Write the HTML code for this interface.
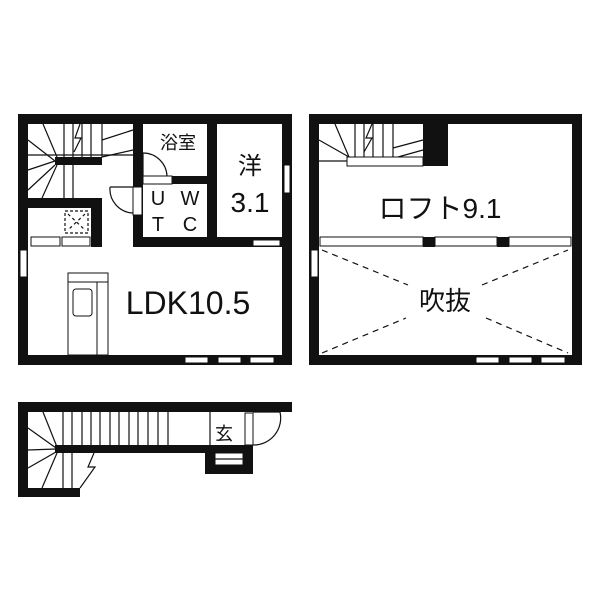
<!DOCTYPE html>
<html><head><style>body{margin:0;background:#fff}svg{display:block}text{font-family:"Liberation Sans","Noto Sans CJK JP",sans-serif;fill:#111}</style></head><body>
<svg width="600" height="600" viewBox="0 0 600 600">
<rect width="600" height="600" fill="#fff"/>
<g fill="#111">
<rect x="18" y="114" width="274" height="10"/>
<rect x="18" y="114" width="10" height="251"/>
<rect x="282" y="114" width="10" height="251"/>
<rect x="18" y="355" width="274" height="10"/>
<rect x="133" y="124" width="10" height="123"/>
<rect x="133" y="237" width="149" height="10"/>
<rect x="207" y="124" width="10" height="123"/>
<rect x="143" y="176" width="64" height="8"/>
<rect x="28" y="198" width="74" height="10"/>
<rect x="91" y="198" width="11" height="49"/>
<rect x="55" y="157" width="47" height="8"/>
<rect x="309" y="114" width="273" height="10"/>
<rect x="309" y="114" width="10" height="251"/>
<rect x="572" y="114" width="10" height="251"/>
<rect x="309" y="355" width="273" height="10"/>
<rect x="423" y="124" width="25" height="42"/>
<rect x="423" y="237" width="12" height="10"/>
<rect x="497" y="237" width="12" height="10"/>
<rect x="18" y="402" width="274" height="10"/>
<rect x="18" y="402" width="10" height="95"/>
<rect x="18" y="488" width="62" height="9"/>
<rect x="55" y="445" width="198" height="8"/>
<rect x="205" y="445" width="48" height="29"/>
</g>
<g fill="#fff" stroke="#111" stroke-width="1">
<rect x="143" y="176" width="29" height="8"/>
<rect x="133" y="187" width="9" height="28"/>
<rect x="31" y="237" width="29" height="9"/>
<rect x="62" y="237" width="28" height="9"/>
<rect x="253" y="240" width="27" height="6"/>
<rect x="284" y="165" width="6" height="28"/>
<rect x="20" y="250" width="7" height="27"/>
<rect x="185" y="357" width="23" height="6"/>
<rect x="218" y="357" width="23" height="6"/>
<rect x="250" y="357" width="24" height="6"/>
<rect x="68" y="273" width="40" height="82"/>
<line x1="68" y1="282" x2="108" y2="282"/>
<line x1="97" y1="282" x2="97" y2="355"/>
<rect x="73" y="289" width="19" height="27" rx="3"/>
<rect x="347" y="157" width="76" height="9"/>
<rect x="320" y="237" width="103" height="9"/>
<rect x="435" y="237" width="62" height="9"/>
<rect x="509" y="237" width="62" height="9"/>
<rect x="311" y="250" width="7" height="27"/>
<rect x="476" y="357" width="23" height="6"/>
<rect x="509" y="357" width="23" height="6"/>
<rect x="541" y="357" width="24" height="6"/>
<rect x="215" y="453" width="28" height="12"/>
<rect x="245" y="413" width="8" height="32"/>
</g>
<g stroke="#111" stroke-width="1.2" fill="none">
<path d="M143 153 A24 24 0 0 1 167 176"/><line x1="143" y1="153" x2="143" y2="176"/>
<path d="M110 187 A24 24 0 0 0 133 213"/><line x1="110" y1="187" x2="133" y2="187"/>
<path d="M253 412 L280 412 A27 27 0 0 1 253 445"/>
<rect x="65" y="211" width="23" height="22" stroke-dasharray="3,2"/>
<line x1="68" y1="214" x2="85" y2="230" stroke-dasharray="3,3"/><line x1="85" y1="214" x2="68" y2="230" stroke-dasharray="3,3"/>
<line x1="28" y1="155" x2="133" y2="155"/>
<line x1="64" y1="124" x2="64" y2="157"/><line x1="73" y1="124" x2="73" y2="157"/><line x1="82" y1="124" x2="82" y2="157"/>
<line x1="43" y1="124" x2="57" y2="157"/><line x1="28" y1="140" x2="55" y2="161"/><line x1="28" y1="170" x2="55" y2="161"/><line x1="28" y1="190" x2="55" y2="165"/><line x1="42" y1="198" x2="57" y2="165"/><line x1="64" y1="165" x2="64" y2="198"/><line x1="73" y1="165" x2="73" y2="198"/>
<line x1="102" y1="140" x2="133" y2="130"/><line x1="102" y1="157" x2="133" y2="150"/><line x1="102" y1="124" x2="102" y2="157"/><line x1="91" y1="124" x2="91" y2="157"/>
<path d="M80 124 L75 138 L81 138 L74 152" />
<line x1="319" y1="161" x2="347" y2="161"/>
<line x1="335" y1="124" x2="349" y2="157"/><line x1="319" y1="140" x2="349" y2="157"/>
<line x1="355" y1="124" x2="355" y2="157"/><line x1="364" y1="124" x2="364" y2="157"/><line x1="373" y1="124" x2="373" y2="157"/><line x1="383" y1="124" x2="383" y2="157"/><line x1="393" y1="124" x2="393" y2="157"/>
<line x1="393" y1="148" x2="423" y2="140"/><line x1="398" y1="157" x2="423" y2="150"/>
<path d="M372 124 L366 138 L372 138 L364 152"/>
<g stroke-dasharray="6,5"><line x1="322" y1="250" x2="408" y2="285"/><line x1="482" y1="285" x2="568" y2="250"/><line x1="322" y1="353" x2="406" y2="318"/><line x1="486" y1="318" x2="568" y2="353"/></g>
<line x1="63" y1="412" x2="63" y2="445"/><line x1="72" y1="412" x2="72" y2="445"/><line x1="82" y1="412" x2="82" y2="445"/><line x1="91" y1="412" x2="91" y2="445"/><line x1="100" y1="412" x2="100" y2="445"/><line x1="110" y1="412" x2="110" y2="445"/><line x1="119" y1="412" x2="119" y2="445"/><line x1="129" y1="412" x2="129" y2="445"/><line x1="138" y1="412" x2="138" y2="445"/><line x1="148" y1="412" x2="148" y2="445"/><line x1="158" y1="412" x2="158" y2="445"/><line x1="168" y1="412" x2="168" y2="445"/>
<line x1="43" y1="412" x2="57" y2="447"/><line x1="28" y1="428" x2="56" y2="448"/><line x1="28" y1="450" x2="56" y2="449"/><line x1="28" y1="468" x2="56" y2="452"/><line x1="42" y1="488" x2="57" y2="453"/>
<line x1="63" y1="453" x2="63" y2="488"/><line x1="72" y1="453" x2="72" y2="488"/>
<path d="M94 453 L88 467 L95 467 L80 488"/>
<line x1="210" y1="412" x2="210" y2="445"/>
<line x1="215" y1="459" x2="243" y2="459"/>
</g>
<text x="178" y="149" font-size="18" text-anchor="middle">浴室</text>
<text x="250" y="174" font-size="24" text-anchor="middle">洋</text>
<text x="250" y="212" font-size="28" text-anchor="middle">3.1</text>
<text x="158" y="205" font-size="20" text-anchor="middle">U</text>
<text x="190" y="205" font-size="20" text-anchor="middle">W</text>
<text x="158" y="231" font-size="20" text-anchor="middle">T</text>
<text x="190" y="231" font-size="20" text-anchor="middle">C</text>
<text x="188" y="314" font-size="32" text-anchor="middle">LDK10.5</text>
<text x="440" y="218" font-size="28" text-anchor="middle">ロフト9.1</text>
<text x="445" y="310" font-size="26" text-anchor="middle">吹抜</text>
<text x="224" y="440" font-size="18" text-anchor="middle">玄</text>
</svg>
</body></html>
